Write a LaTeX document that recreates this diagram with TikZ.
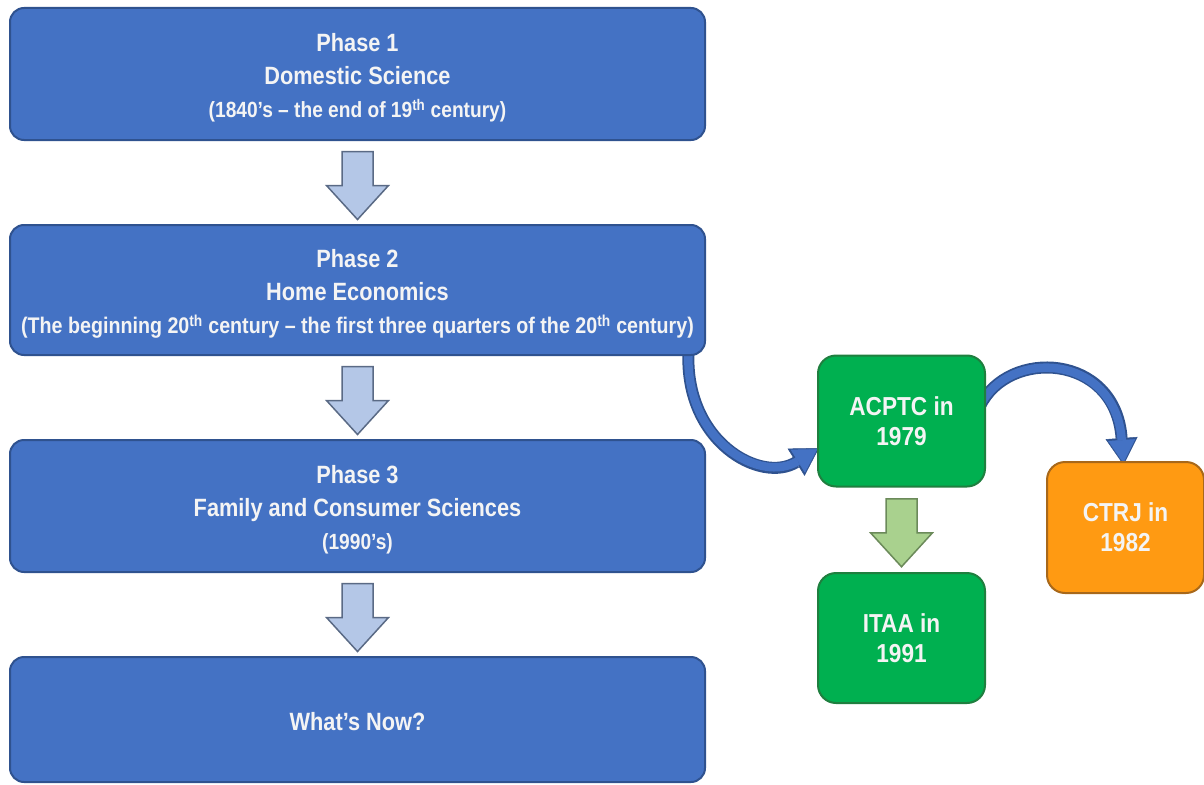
\documentclass[tikz,border=0pt]{standalone}
\usepackage{fontspec}
\setmainfont{Liberation Sans}[FakeStretch=0.87]
\usetikzlibrary{arrows.meta,calc}
\definecolor{boxblue}{HTML}{4472C4}
\definecolor{boxblueb}{HTML}{2F528F}
\definecolor{arrlight}{HTML}{B4C7E7}
\definecolor{arrlightb}{HTML}{5A6A85}
\definecolor{gbox}{HTML}{00B050}
\definecolor{gboxb}{HTML}{1F7F3F}
\definecolor{garr}{HTML}{A9D18E}
\definecolor{garrb}{HTML}{6B8A5A}
\definecolor{obox}{HTML}{FF9A12}
\definecolor{oboxb}{HTML}{A8681A}
\definecolor{txt}{HTML}{F4F4F4}
\pgfdeclarelayer{bg}
\pgfsetlayers{bg,main}
\newcommand{\topstrut}{\rule{0pt}{26pt}}
\begin{document}
\begin{tikzpicture}[x=1pt,y=-1pt,
 phase/.style={draw=boxblueb, fill=boxblue, line width=2pt, rounded corners=14pt, minimum width=695pt, text=txt, align=center, font=\bfseries\fontsize{25}{33}\selectfont, inner sep=0pt},
 smallbox/.style={line width=2pt, rounded corners=18pt, minimum width=167pt, minimum height=131pt, text=txt, align=center, font=\bfseries\fontsize{26}{30}\selectfont, inner sep=0pt},
 downarr/.pic={\draw[pic actions] (-15.5,-31) -- (15.5,-31) -- (15.5,3) -- (31,3) -- (0,37) -- (-31,3) -- (-15.5,3) -- cycle;},
 curvb/.style={draw=boxblueb, line width=12pt, -{Triangle[length=27pt 0, width=32pt 0, line width=0.5pt]}},
 curvf/.style={draw=boxblue, line width=8.5pt, shorten >=2pt, -{Triangle[length=23pt 0, width=27pt 0, line width=0.5pt]}},
]
\useasboundingbox (0,0) rectangle (1204,784);

\node[phase, minimum height=132pt] (b1) at (357.5,74) {\topstrut Phase 1\\Domestic Science\\{\fontsize{22}{33}\selectfont (1840’s – the end of 19\textsuperscript{th} century)}};
\node[phase, minimum height=130pt] (b2) at (357.5,290) {\topstrut Phase 2\\Home Economics\\{\fontsize{22.6}{33}\selectfont (The beginning 20\textsuperscript{th} century – the first three quarters of the 20\textsuperscript{th} century)}};
\node[phase, minimum height=132pt] (b3) at (357.5,506) {\topstrut Phase 3\\Family and Consumer Sciences\\{\fontsize{22}{33}\selectfont (1990’s)}};
\node[phase, minimum height=125pt] (b4) at (357.5,719.5) {\rule{0pt}{22pt}What’s Now?};

\node[smallbox, draw=gboxb, fill=gbox] (n1) at (901.5,421) {ACPTC in\\1979};
\node[smallbox, draw=gboxb, fill=gbox, minimum height=130pt] (n2) at (901.5,638) {ITAA in\\1991};
\node[smallbox, draw=oboxb, fill=obox, minimum width=157pt] (n3) at (1125.5,527.5) {CTRJ in\\1982};

\coordinate (m1) at ($(b1.south)!0.5!(b2.north)$);
\coordinate (m2) at ($(b2.south)!0.5!(b3.north)$);
\coordinate (m3) at ($(b3.south)!0.5!(b4.north)$);
\coordinate (m4) at ($(n1.south)!0.5!(n2.north)$);
\pic[draw=arrlightb, fill=arrlight, line width=1.5pt] at (m1) {downarr};
\pic[draw=arrlightb, fill=arrlight, line width=1.5pt] at (m2) {downarr};
\pic[draw=arrlightb, fill=arrlight, line width=1.5pt] at (m3) {downarr};
\pic[draw=garrb, fill=garr, line width=1.5pt] at (m4) {downarr};

\coordinate (s1) at ($(b2.south east)+(-17.5,-4)$);
\coordinate (e1) at ($(n1.west)+(2,27)$);
\coordinate (s2) at ($(n1.east)+(-6,-15)$);
\coordinate (e2) at ($(n3.north)+(-2,4)$);
\begin{pgfonlayer}{bg}
\draw[curvb] (s1) .. controls +(-4,90) and +(-58,36) .. (e1);
\draw[curvf] (s1) .. controls +(-4,90) and +(-58,36) .. (e1);
\draw[curvb] (s2) .. controls +(28,-58) and +(-8,-112) .. (e2);
\draw[curvf] (s2) .. controls +(28,-58) and +(-8,-112) .. (e2);
\end{pgfonlayer}
\end{tikzpicture}
\end{document}
